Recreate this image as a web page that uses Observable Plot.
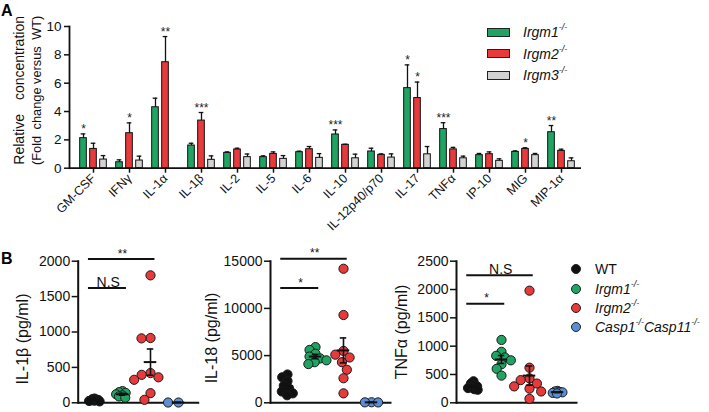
<!DOCTYPE html>
<html><head><meta charset="utf-8">
<script src="https://cdn.jsdelivr.net/npm/d3@7"></script>
<script src="https://cdn.jsdelivr.net/npm/@observablehq/plot@0.6"></script>
<style>
body{margin:0;background:#fff;font-family:"Liberation Sans",Arial,sans-serif;}
#root{position:relative;width:709px;height:412px;overflow:hidden;background:#fff;}
svg{overflow:visible}
.lbl{position:absolute;font-weight:bold;font-size:16px;color:#000;}
.legA{position:absolute;display:flex;align-items:center;font-size:14px;font-style:italic;color:#111;white-space:nowrap}
.legA .sw{width:21px;height:7px;border:1px solid #222;margin-right:13px}
.legB{position:absolute;display:flex;align-items:center;font-size:14px;color:#111;white-space:nowrap}
.legB .dt{width:8px;height:8px;border-radius:50%;border:1px solid #222;margin-right:14px}
sup{font-size:9px;vertical-align:7px;line-height:0}
</style></head><body><div id="root"></div>
<script>
// ---------- Panel A data ----------
const aCats = ["GM-CSF","IFNγ","IL-1α","IL-1β","IL-2","IL-5","IL-6","IL-10","IL-12p40/p70","IL-17","TNFα","IP-10","MIG","MIP-1α"];
const aSeries = ["Irgm1","Irgm2","Irgm3"];
const irgm1Mean = [2.12,0.42,4.30,1.60,1.08,0.78,1.13,2.38,1.18,5.65,2.76,0.92,1.15,2.54];
const irgm1Err  = [0.30,0.17,0.64,0.16,0.07,0.09,0.07,0.32,0.23,1.64,0.45,0.12,0.07,0.47];
const irgm2Mean = [1.36,2.47,7.48,3.36,1.32,1.01,1.34,1.65,0.94,4.95,1.33,0.99,1.36,1.22];
const irgm2Err  = [0.40,0.73,1.81,0.57,0.09,0.14,0.19,0.04,0.07,1.13,0.14,0.16,0.08,0.12];
const irgm3Mean = [0.61,0.54,null,0.59,0.78,0.66,0.73,0.70,0.75,0.98,0.70,0.52,0.92,0.49];
const irgm3Err  = [0.28,0.31,null,0.28,0.22,0.23,0.30,0.29,0.26,0.55,0.15,0.14,0.12,0.24];
const aTicks = [0,2,4,6,8,10];
const starCats   = ["GM-CSF","IFNγ","IL-1α","IL-1β","IL-10","IL-17","IL-17","TNFα","MIG","MIP-1α"];
const starSeries = ["Irgm1","Irgm2","Irgm2","Irgm2","Irgm1","Irgm1","Irgm2","Irgm1","Irgm2","Irgm1"];
const starLabels = ["*","*","**","***","***","*","*","***","*","**"];

// ---------- Panel B data ----------
const bGroups = ["WT","Irgm1","Irgm2","Casp1Casp11"];
const il1bWT    = [60,52,46,40,35,30,26,20];
const il1bIrgm1 = [165,150,140,120,105,90,72];
const il1bIrgm2 = [1800,915,910,420,395,360,325,136,42];
const il1bCasp  = [4,4];
const il1bMean  = [39,120,575,4];
const il1bSem   = [5,13,185,0];
const il1bTicks = [0,500,1000,1500,2000];
const il1bSigTo = ["Irgm2","Irgm1"];
const il1bSigY  = [2030,1620];
const il1bSigText = ["**","N.S"];

const il18WT    = [3000,2700,2300,1800,1500,1200,1000,800];
const il18Irgm1 = [5900,5600,5200,4900,4700,4500,4300,4100];
const il18Irgm2 = [14200,9300,5500,5100,4800,4300,3500,2600,1000];
const il18Casp  = [60,50,40];
const il18Mean  = [1790,4900,5550,50];
const il18Sem   = [280,230,1320,0];
const il18Ticks = [0,5000,10000,15000];
const il18SigTo = ["Irgm2","Irgm1"];
const il18SigY  = [15250,12150];
const il18SigText = ["**","*"];

const tnfWT    = [380,340,310,290,270,260,240,230];
const tnfIrgm1 = [1110,900,830,800,750,680,600,480];
const tnfIrgm2 = [1980,620,430,400,340,290,250,200,70];
const tnfCasp  = [210,200,190,185,175,165];
const tnfMean  = [290,765,480,188];
const tnfSem   = [18,70,170,8];
const tnfTicks = [0,500,1000,1500,2000,2500];
const tnfSigTo = ["Irgm2","Irgm1"];
const tnfSigY  = [2250,1750];
const tnfSigText = ["N.S","*"];

// ---------- drawing ----------
const root = document.getElementById("root");
function place(el, left, top){const d=document.createElement("div");d.style.cssText=`position:absolute;left:${left}px;top:${top}px`;d.appendChild(el);root.appendChild(d);return d;}
const FONT = "Liberation Sans, Arial, sans-serif";
const INK = "#111";
const DOT_R = 4.6;

// Panel A
{
  const W = 600, H = 250, mL = 69, mT = 26, mB = H - 167.7;
  const xr = [72, 581];
  const bw = (xr[1]-xr[0]) / aCats.length;
  const barW = 7, capW = 5;
  const offs = [-10, 0, 10];
  const colorsA = ["#1fa463","#e8393b","#d3d3d3"];
  const means = [irgm1Mean, irgm2Mean, irgm3Mean], errs = [irgm1Err, irgm2Err, irgm3Err];
  const marks = [];
  aSeries.forEach((s,k)=>{
    const d = aCats.map((c,i)=>({cat:c, v:means[k][i], e:errs[k][i]})).filter(r=>r.v!=null);
    marks.push(Plot.barY(d,{x:"cat",y:"v",dx:offs[k],insetLeft:(bw-barW)/2,insetRight:(bw-barW)/2,fill:colorsA[k],stroke:INK,strokeWidth:1}));
    marks.push(Plot.ruleX(d,{x:"cat",y1:"v",y2:r=>r.v+r.e,dx:offs[k],stroke:INK,strokeWidth:1.3}));
    marks.push(Plot.tickY(d,{x:"cat",y:r=>r.v+r.e,dx:offs[k],insetLeft:(bw-capW)/2,insetRight:(bw-capW)/2,stroke:INK,strokeWidth:1.3}));
    const st = starCats.map((c,i)=>({c,s:starSeries[i],t:starLabels[i]})).filter(r=>r.s===s)
      .map(r=>{const i=aCats.indexOf(r.c);return {cat:r.c,y:means[k][i]+errs[k][i],t:r.t};});
    marks.push(Plot.text(st,{x:"cat",y:"y",text:"t",dx:offs[k],dy:-1,lineAnchor:"bottom",fontSize:12,fill:"#222"}));
  });
  const pA = Plot.plot({
    width:W, height:H, marginLeft:mL, marginRight:W-xr[1], marginTop:mT, marginBottom:mB,
    style:{fontFamily:FONT, background:"transparent", color:INK, overflow:"visible"},
    x:{domain:aCats, range:xr, padding:0},
    y:{domain:[0,10]},
    marks:[
      ...marks,
      Plot.ruleY([0],{stroke:INK,strokeWidth:1.8}),
      Plot.frame({anchor:"left",stroke:INK,strokeWidth:1.8}),
      Plot.axisY({ticks:aTicks,tickFormat:d=>String(d),tickSize:5,tickPadding:3,fontSize:13.5,label:null,strokeWidth:1.5}),
      Plot.axisX({tickRotate:-45,tickSize:5,tickPadding:3,fontSize:12.5,label:null,strokeWidth:1.5}),
      Plot.text(["Relative\u2002\u2002concentration"],{text:d=>d,frameAnchor:"left",textAnchor:"middle",rotate:-90,dx:-50,dy:-7,fontSize:14}),
      Plot.text(["(Fold\u2002change versus\u2002WT)"],{text:d=>d,frameAnchor:"left",textAnchor:"middle",rotate:-90,dx:-33,dy:-7,fontSize:12.8})
    ]
  });
  place(pA, 0, 0);
}

// Panel B subplots
const bColors = ["#111111","#1fa463","#e8393b","#5b8fd4"];
function drawRadius(index, scales, values, dimensions, context, next){
  const g = next(index, scales, values, dimensions, context);
  g.querySelectorAll("circle").forEach(c=>c.setAttribute("r", DOT_R));
  return g;
}
function subplot(cfg){
  const W = 215, H = 170, top = 240;
  const mL = cfg.axisX - cfg.left, mT = 260.7 - top, mB = top + H - 402.3;
  const frameW = 121.5;
  const mR = W - (mL + frameW);
  const xr = [mL + 1.5, mL + 115.5];
  const step = (xr[1]-xr[0]) / bGroups.length;
  const stats = bGroups.map((g,k)=>({g,m:cfg.mean[k],s:cfg.sem[k]}));
  // significance bars: group positions as indices on a linear scale aligned with the facet bands
  const sig = cfg.sigTo.map((t,i)=>({i1:bGroups.indexOf("WT"), i2:bGroups.indexOf(t), y:cfg.sigY[i], t:cfg.sigText[i]}));
  const yMax = cfg.ticks[cfg.ticks.length-1];
  const base = Plot.plot({
    width:W, height:H, marginLeft:mL, marginRight:mR, marginTop:mT, marginBottom:mB,
    style:{fontFamily:FONT, background:"transparent", color:INK, overflow:"visible"},
    x:{type:"linear", domain:[-0.5, bGroups.length-0.5], range:xr, axis:null},
    y:{domain:[0,yMax]},
    marks:[
      Plot.axisY({ticks:cfg.ticks,tickFormat:d=>String(d),tickSize:6,tickPadding:2,fontSize:14,label:null,strokeWidth:1.5}),
      Plot.frame({anchor:"left",stroke:INK,strokeWidth:2}),
      Plot.ruleY([0],{stroke:INK,strokeWidth:2}),
      Plot.ruleY(sig,{x1:"i1",x2:"i2",y:"y",insetLeft:-5.5,insetRight:-4,stroke:INK,strokeWidth:2}),
      Plot.text(sig,{x:d=>(d.i1+d.i2)/2,y:"y",text:"t",lineAnchor:"bottom",dy:-1.5,fontSize:d=>d.t.includes("*")?12:14,fill:INK}),
      Plot.text([cfg.label],{text:d=>d,frameAnchor:"left",textAnchor:"middle",rotate:-90,dx:cfg.labelDx,dy:cfg.labelDy,fontSize:16})
    ]
  });
  const dotMarks = bGroups.map((g,k)=>Plot.dot(cfg.sets[k].map(v=>({g,v})),
    Plot.dodgeX({anchor:"middle", padding:0},
      {fx:"g", y:"v", r:cfg.spread[k], fill:bColors[k], stroke:"#1a1a1a", strokeWidth:1, render:drawRadius})));
  const dots = Plot.plot({
    width:W, height:H, marginLeft:mL, marginRight:mR, marginTop:mT, marginBottom:mB,
    style:{fontFamily:FONT, background:"transparent", overflow:"visible", color:INK},
    fx:{domain:bGroups, range:xr, padding:0, axis:null},
    x:{axis:null},
    y:{domain:[0,yMax], axis:null},
    marks:[
      ...dotMarks,
      Plot.ruleX(stats,{x:null, fx:"g", y1:d=>d.m-d.s, y2:d=>d.m+d.s, stroke:INK, strokeWidth:1.6}),
      Plot.tickY(stats,{fx:"g", y:"m", insetLeft:(step-13)/2, insetRight:(step-13)/2, stroke:INK, strokeWidth:2}),
      Plot.tickY(stats,{fx:"g", y:d=>d.m+d.s, insetLeft:(step-7)/2, insetRight:(step-7)/2, stroke:INK, strokeWidth:1.6}),
      Plot.tickY(stats,{fx:"g", y:d=>d.m-d.s, insetLeft:(step-7)/2, insetRight:(step-7)/2, stroke:INK, strokeWidth:1.6})
    ]
  });
  place(base, cfg.left, top);
  place(dots, cfg.left, top);
}
subplot({left:0, axisX:77.7, ticks:il1bTicks, label:"IL-1β (pg/ml)", labelDx:-55, labelDy:7,
  sets:[il1bWT,il1bIrgm1,il1bIrgm2,il1bCasp], mean:il1bMean, sem:il1bSem, spread:[1.0,1.8,4.5,5.2],
  sigTo:il1bSigTo, sigY:il1bSigY, sigText:il1bSigText});
subplot({left:190, axisX:270, ticks:il18Ticks, label:"IL-18 (pg/ml)", labelDx:-59, labelDy:6,
  sets:[il18WT,il18Irgm1,il18Irgm2,il18Casp], mean:il18Mean, sem:il18Sem, spread:[3,3.3,4.5,3.3],
  sigTo:il18SigTo, sigY:il18SigY, sigText:il18SigText});
subplot({left:376, axisX:456, ticks:tnfTicks, label:"TNFα (pg/ml)", labelDx:-55, labelDy:0,
  sets:[tnfWT,tnfIrgm1,tnfIrgm2,tnfCasp], mean:tnfMean, sem:tnfSem, spread:[1.7,3.3,4.5,1.3],
  sigTo:tnfSigTo, sigY:tnfSigY, sigText:tnfSigText});

// Panel labels
function lbl(t,x,y){const d=document.createElement("div");d.className="lbl";d.textContent=t;d.style.left=x+"px";d.style.top=y+"px";root.appendChild(d);}
lbl("A",1,2); lbl("B",1,250);

// Legend A
const legAColors = ["#1fa463","#e8393b","#d3d3d3"];
const legAY = [32, 53.5, 75];
aSeries.forEach((s,k)=>{
  const d=document.createElement("div");d.className="legA";
  d.style.left="487px";d.style.top=(legAY[k]-9)+"px";d.style.height="18px";
  d.innerHTML=`<span class="sw" style="background:${legAColors[k]}"></span><span>${s}<sup>-/-</sup></span>`;
  root.appendChild(d);
});
// Legend B
const legBY = [269, 288.5, 307.5, 327];
const legBHtml = ["WT","<i>Irgm1<sup>-/-</sup></i>","<i>Irgm2<sup>-/-</sup></i>","<i>Casp1<sup>-/-</sup>Casp11<sup>-/-</sup></i>"];
bGroups.forEach((g,k)=>{
  const d=document.createElement("div");d.className="legB";
  d.style.left="571px";d.style.top=(legBY[k]-9)+"px";d.style.height="18px";
  d.innerHTML=`<span class="dt" style="background:${bColors[k]}"></span><span>${legBHtml[k]}</span>`;
  root.appendChild(d);
});
</script></body></html>
